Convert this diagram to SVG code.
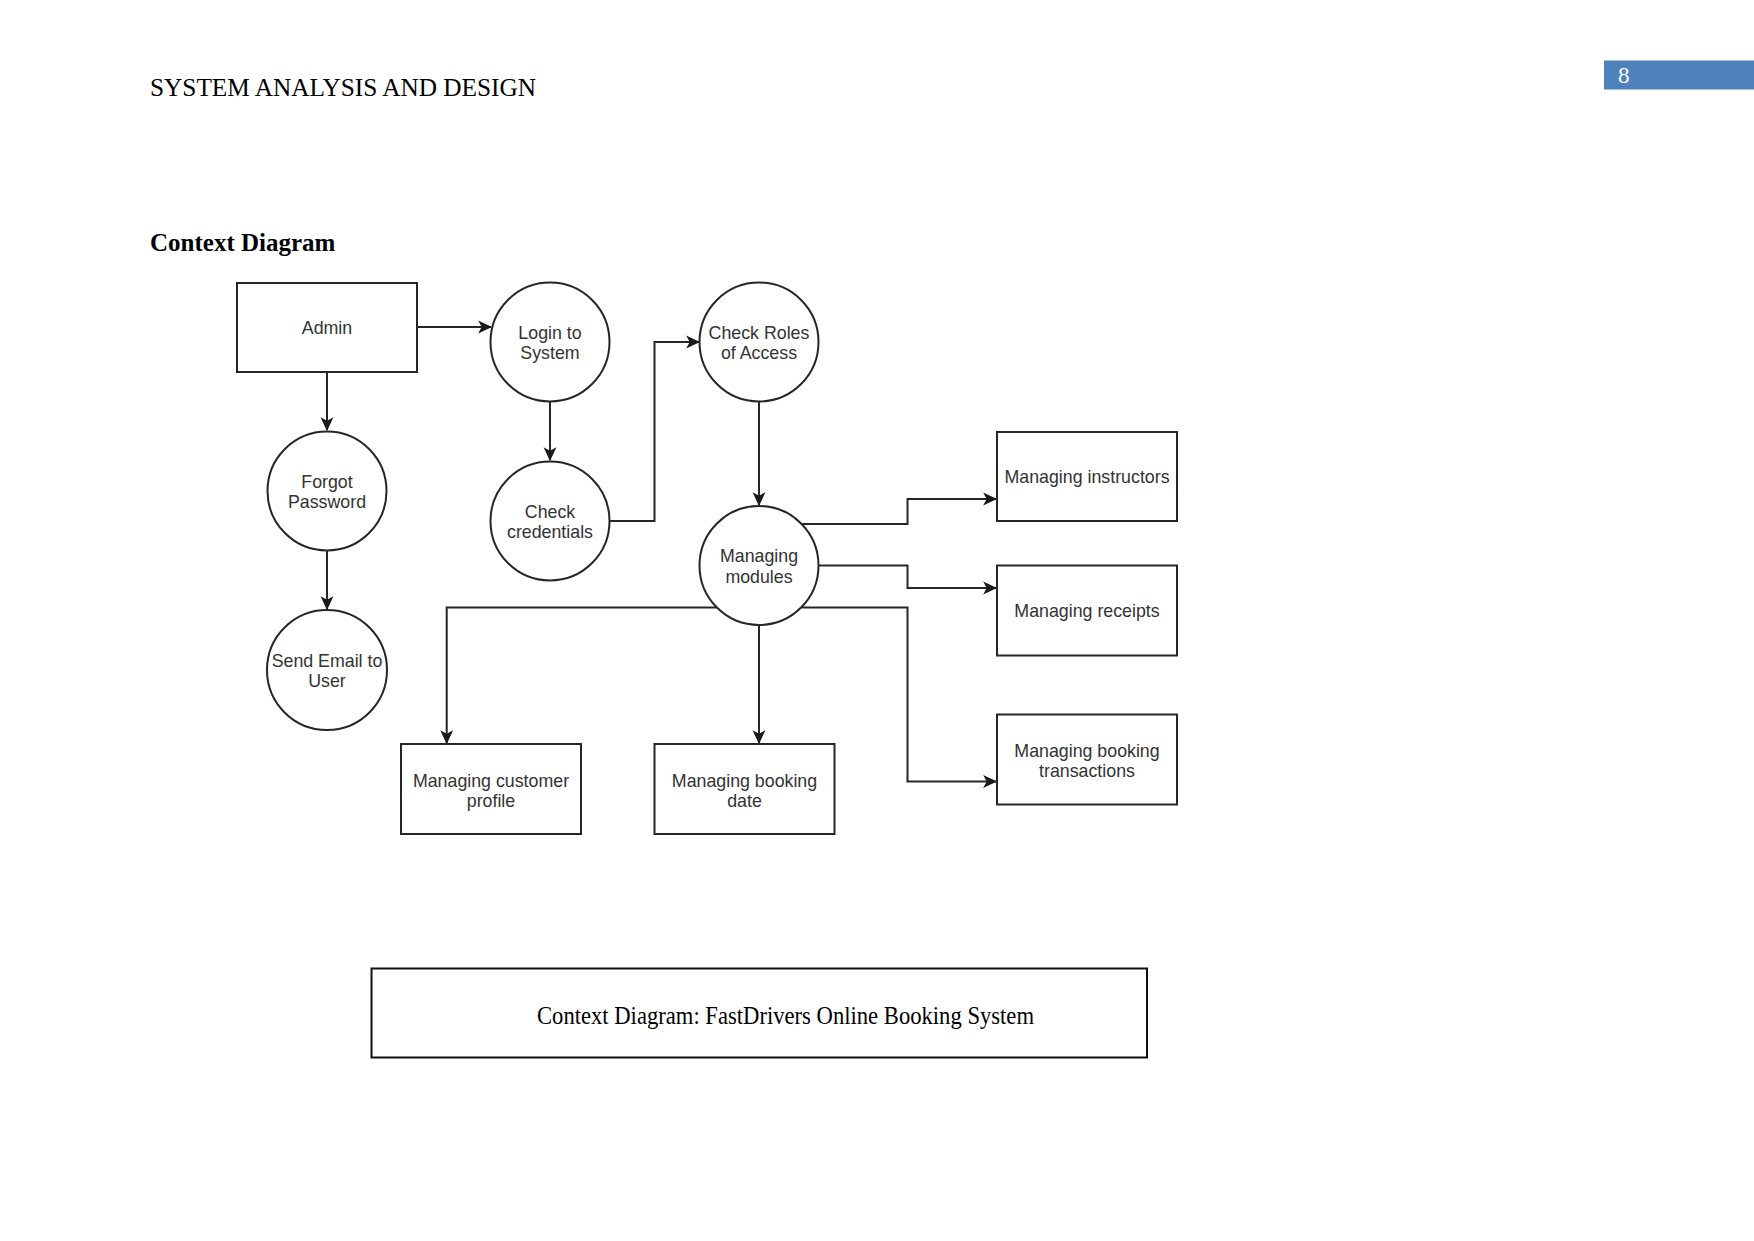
<svg xmlns="http://www.w3.org/2000/svg" width="1754" height="1241" viewBox="0 0 1754 1241">
<style>
.bg{fill:#ffffff}
.node{fill:#ffffff;stroke:#262626;stroke-width:2}
.lbl{font-family:"Liberation Sans",Arial,sans-serif;font-size:17.8px;fill:#333333;text-anchor:middle}
.edge{fill:none;stroke:#262626;stroke-width:2}
.page{font-family:"Liberation Serif","Times New Roman",serif;fill:#000000}
</style>
<defs>
<marker id="arr" markerUnits="userSpaceOnUse" markerWidth="14" markerHeight="14" viewBox="0 0 12 12" refX="11" refY="6" orient="auto">
<path d="M0,0.5 L12,6 L0,11.5 L3,6 z" fill="#1a1a1a"/>
</marker>
</defs>
<rect class="bg" x="0" y="0" width="1754" height="1241"/>

<text class="page" x="150" y="96" font-size="25" textLength="386" lengthAdjust="spacingAndGlyphs">SYSTEM ANALYSIS AND DESIGN</text>
<rect x="1604" y="60.5" width="150" height="29" fill="#4F81BD"/>
<text class="page" x="1618" y="83" font-size="23" style="fill:#ffffff">8</text>
<text class="page" x="150" y="251" font-size="25" font-weight="bold">Context Diagram</text>

<g id="connectors">
<path class="edge" d="M417,327 L491,327" marker-end="url(#arr)"/>
<path class="edge" d="M327,372 L327,430" marker-end="url(#arr)"/>
<path class="edge" d="M327,550.5 L327,609" marker-end="url(#arr)"/>
<path class="edge" d="M550,401.5 L550,460" marker-end="url(#arr)"/>
<path class="edge" d="M609.5,521 L654.5,521 L654.5,342 L699,342" marker-end="url(#arr)"/>
<path class="edge" d="M759,401 L759,505" marker-end="url(#arr)"/>
<path class="edge" d="M802,524 L907.5,524 L907.5,499 L996,499" marker-end="url(#arr)"/>
<path class="edge" d="M818.5,565.5 L907.5,565.5 L907.5,588 L996,588" marker-end="url(#arr)"/>
<path class="edge" d="M716.5,607.5 L446.7,607.5 L446.7,743" marker-end="url(#arr)"/>
<path class="edge" d="M759,625 L759,743" marker-end="url(#arr)"/>
<path class="edge" d="M801.5,607.5 L907.5,607.5 L907.5,781.5 L996,781.5" marker-end="url(#arr)"/>
</g>

<g id="admin">
<rect class="node" x="237" y="283" width="180" height="89"/>
<text class="lbl" x="327" y="334">Admin</text>
</g>
<g id="login">
<circle class="node" cx="550" cy="342" r="59.5"/>
<text class="lbl" x="550" y="338.5">Login to</text>
<text class="lbl" x="550" y="359">System</text>
</g>
<g id="forgot">
<circle class="node" cx="327" cy="491" r="59.5"/>
<text class="lbl" x="327" y="487.5">Forgot</text>
<text class="lbl" x="327" y="508">Password</text>
</g>
<g id="checkcred">
<circle class="node" cx="550" cy="521" r="59.5"/>
<text class="lbl" x="550" y="517.5">Check</text>
<text class="lbl" x="550" y="538">credentials</text>
</g>
<g id="sendemail">
<circle class="node" cx="327" cy="670" r="60"/>
<text class="lbl" x="327" y="666.5">Send Email to</text>
<text class="lbl" x="327" y="687">User</text>
</g>
<g id="checkroles">
<circle class="node" cx="759" cy="342" r="59.5"/>
<text class="lbl" x="759" y="338.5">Check Roles</text>
<text class="lbl" x="759" y="359">of Access</text>
</g>
<g id="modules">
<circle class="node" cx="759" cy="565.5" r="59.5"/>
<text class="lbl" x="759" y="562">Managing</text>
<text class="lbl" x="759" y="582.5">modules</text>
</g>
<g id="instructors">
<rect class="node" x="997" y="432" width="180" height="89"/>
<text class="lbl" x="1087" y="483">Managing instructors</text>
</g>
<g id="receipts">
<rect class="node" x="997" y="565.5" width="180" height="90"/>
<text class="lbl" x="1087" y="617">Managing receipts</text>
</g>
<g id="transactions">
<rect class="node" x="997" y="714.5" width="180" height="90"/>
<text class="lbl" x="1087" y="756.5">Managing booking</text>
<text class="lbl" x="1087" y="777">transactions</text>
</g>
<g id="customer">
<rect class="node" x="401" y="744" width="180" height="90"/>
<text class="lbl" x="491" y="786.5">Managing customer</text>
<text class="lbl" x="491" y="807">profile</text>
</g>
<g id="bookingdate">
<rect class="node" x="654.5" y="744" width="180" height="90"/>
<text class="lbl" x="744.5" y="786.5">Managing booking</text>
<text class="lbl" x="744.5" y="807">date</text>
</g>

<g id="caption">
<rect x="371.5" y="968.5" width="775.5" height="89" fill="#ffffff" stroke="#111111" stroke-width="2"/>
<text class="page" x="537" y="1024" font-size="25" textLength="497" lengthAdjust="spacingAndGlyphs">Context Diagram: FastDrivers Online Booking System</text>
</g>
</svg>
